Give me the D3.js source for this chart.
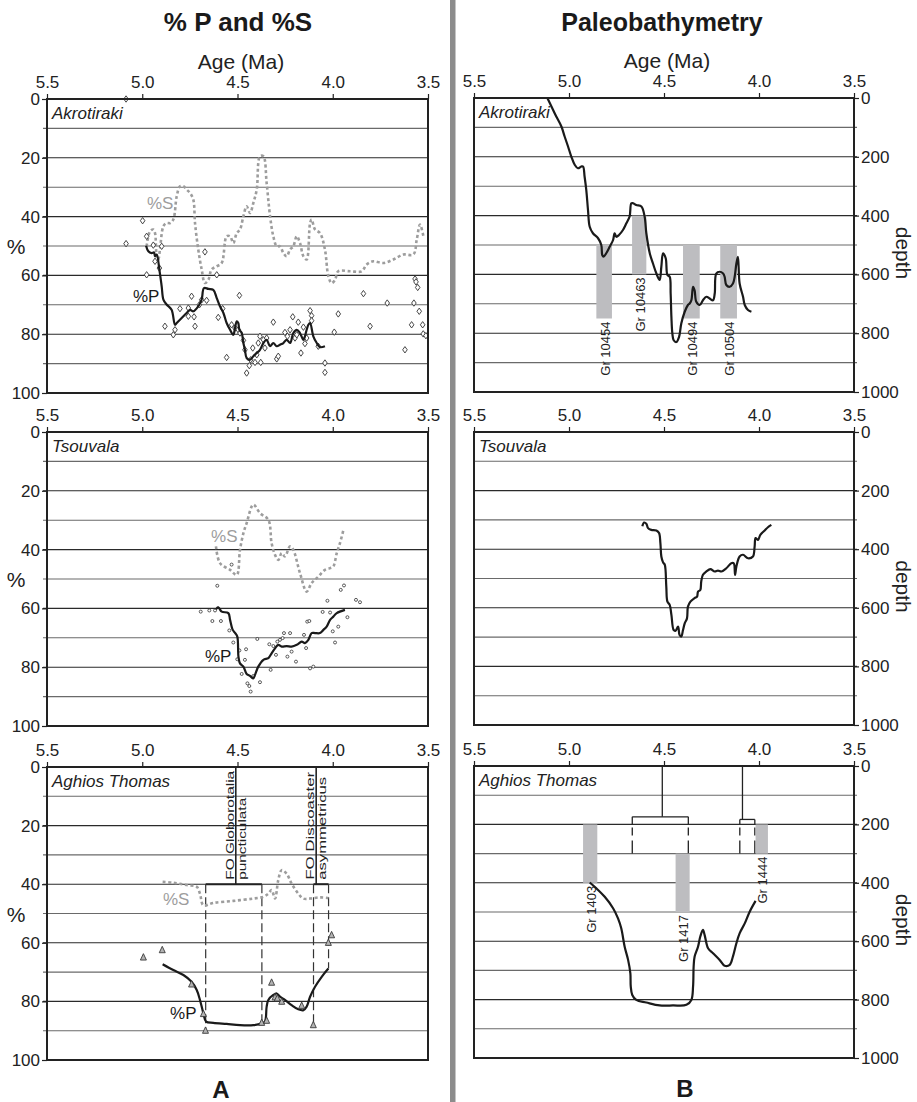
<!DOCTYPE html>
<html><head><meta charset="utf-8">
<script src="https://cdn.jsdelivr.net/npm/d3@7"></script>
<style>
body{margin:0;background:#fff}
svg{display:block}
svg text{font-family:"Liberation Sans",Arial,Helvetica,sans-serif}
</style></head><body>
<svg id="c" width="917" height="1102" font-family="Liberation Sans, Arial, sans-serif"></svg>
<script>
// ---------- axis ticks ----------
const ageTicks = [5.5, 5.0, 4.5, 4.0, 3.5];
const pctTicks = [0, 20, 40, 60, 80, 100];
const depthTicks = [0, 200, 400, 600, 800, 1000];
const siteNames = ["Akrotiraki", "Tsouvala", "Aghios Thomas"];

// ---------- A: Akrotiraki ----------
const akrP_age = [4.980,4.968,4.951,4.938,4.933,4.924,4.910,4.898,4.889,4.872,4.846,4.828,4.819,4.793,4.767,4.749,4.732,4.706,4.688,4.676,4.653,4.627,4.609,4.592,4.574,4.557,4.539,4.522,4.513,4.504,4.496,4.490,4.478,4.469,4.461,4.452,4.434,4.417,4.399,4.382,4.364,4.347,4.329,4.312,4.294,4.277,4.259,4.242,4.224,4.207,4.189,4.172,4.154,4.146,4.137,4.128,4.119,4.102,4.084,4.067,4.041];
const akrP_val = [49.9,51.8,52.4,52.2,53.5,52.9,58.1,63.7,68.2,69.9,71.7,76.8,76.2,74.5,72.8,71.7,72.2,70.5,68.2,64.3,64.6,64.9,67.7,70.5,72.8,76.2,78.5,80.2,77.9,75.6,76.2,78.5,79.6,83.0,85.3,88.1,88.7,87.5,86.4,85.3,83.0,81.9,84.1,83.0,84.1,83.6,83.0,81.9,83.0,79.6,78.5,79.6,81.9,80.7,78.5,76.8,76.2,80.7,83.0,84.4,84.1];
const akrS_age = [4.977,4.959,4.942,4.933,4.924,4.916,4.907,4.889,4.872,4.854,4.837,4.819,4.802,4.784,4.767,4.749,4.732,4.723,4.706,4.688,4.671,4.653,4.636,4.609,4.583,4.557,4.539,4.522,4.504,4.487,4.469,4.452,4.434,4.417,4.399,4.382,4.364,4.347,4.329,4.312,4.294,4.277,4.259,4.242,4.224,4.207,4.189,4.172,4.154,4.137,4.119,4.111,4.093,4.067,4.041,4.023,4.006,3.988,3.971,3.909,3.848,3.822,3.787,3.734,3.682,3.629,3.577,3.559,3.542,3.524];
const akrS_val = [50.1,45.0,44.4,45.6,53.5,54.6,51.2,43.3,42.2,42.2,41.0,33.1,29.7,29.7,30.8,32.0,34.2,42.2,51.2,58.0,62.6,61.5,58.0,56.9,55.8,46.7,46.7,49.0,45.6,44.4,39.9,36.5,38.8,35.4,30.8,19.5,19.5,28.6,39.9,46.7,50.1,50.1,52.4,53.5,51.2,50.1,46.7,49.0,53.5,54.6,42.2,41.0,44.4,45.6,51.2,60.3,62.6,61.5,58.6,58.6,58.6,56.3,55.2,55.8,54.6,52.9,52.9,47.8,42.7,46.7];
const akrPts_age = [5.085,5.085,4.998,4.977,4.977,4.942,4.933,4.910,4.898,4.881,4.837,4.828,4.802,4.758,4.758,4.741,4.728,4.723,4.700,4.688,4.671,4.662,4.609,4.601,4.578,4.557,4.531,4.513,4.490,4.496,4.487,4.469,4.461,4.452,4.438,4.431,4.420,4.408,4.399,4.391,4.378,4.382,4.364,4.356,4.347,4.312,4.294,4.286,4.251,4.238,4.224,4.210,4.198,4.189,4.181,4.167,4.154,4.146,4.137,4.119,4.111,4.111,4.076,4.041,4.041,3.992,3.971,3.839,3.804,3.714,3.621,3.586,3.574,3.568,3.563,3.554,3.546,3.528,3.525,3.511];
const akrPts_val = [0,49.2,41.4,46.7,59.8,49.7,55.2,57.5,50.1,77.3,80.2,78.5,71.3,73.9,71.1,67.1,74.1,77.3,70.0,68.3,52.0,68.5,59.8,74.3,71.3,87.9,76.8,77.9,66.8,78.5,79.6,82.1,85.3,93.2,90.7,88.7,84.7,89.6,87.0,83.0,89.6,80.7,81.9,84.7,81.3,75.9,88.4,87.5,79.4,80.7,78.5,74.1,81.3,80.2,75.9,86.4,77.6,83.2,81.3,72.0,73.7,75.4,84.1,89.8,93.0,79.3,73.1,66.2,77.3,69.4,85.3,76.8,69.4,61.2,62.2,64.1,72.2,76.8,79.9,80.5];

// ---------- A: Tsouvala ----------
const tsoP_age = [4.613,4.601,4.583,4.548,4.539,4.525,4.512,4.501,4.495,4.487,4.469,4.452,4.434,4.417,4.408,4.391,4.364,4.338,4.321,4.303,4.286,4.268,4.242,4.216,4.189,4.163,4.146,4.128,4.111,4.093,4.067,4.049,4.032,4.014,3.997,3.979,3.936];
const tsoP_val = [60.3,59.6,61.1,61.6,63.9,67.3,68.4,69.6,76.4,78.7,79.8,82.3,83.0,83.8,82.6,79.8,77.5,76.9,75.3,73.6,72.4,73.0,72.8,73.0,72.4,71.3,71.8,70.7,68.4,68.4,68.4,67.3,66.2,63.9,62.8,61.6,60.5];
const tsoS_age = [4.613,4.592,4.539,4.504,4.487,4.469,4.452,4.417,4.382,4.338,4.321,4.303,4.286,4.268,4.251,4.224,4.207,4.172,4.137,4.111,4.076,4.041,4.014,3.997,3.979,3.962,3.944];
const tsoS_val = [38.9,44.6,46.9,48.6,40.1,34.4,31.0,24.7,27.6,29.9,37.8,41.8,43.5,41.2,42.3,38.9,40.1,48.0,54.3,51.4,49.2,46.9,46.3,45.7,41.2,37.8,33.3];
const tsoPts_age = [4.693,4.648,4.632,4.618,4.606,4.587,4.543,4.531,4.522,4.501,4.490,4.478,4.461,4.455,4.448,4.438,4.431,4.417,4.396,4.382,4.333,4.326,4.312,4.298,4.291,4.277,4.263,4.256,4.238,4.224,4.216,4.193,4.151,4.140,4.134,4.123,4.119,4.102,4.053,4.028,4.014,4.000,3.988,3.971,3.958,3.941,3.923,3.878,3.857];
const tsoPts_val = [61.1,60.7,64.3,60.7,52.3,64.3,67.5,45.1,71.6,77.3,74.3,82.3,77.5,73.9,85.5,86.4,88.3,83.0,70.4,85.1,72.2,80.9,72.8,75.8,71.3,70.7,70.1,68.4,76.4,68.4,74.7,78.1,69.0,73.5,64.5,64.3,80.4,79.8,61.2,57.4,61.4,67.8,71.6,66.2,53.7,52.2,63.0,57.1,57.9];

// ---------- A: Aghios Thomas ----------
const aghP_age = [4.893,4.837,4.784,4.741,4.714,4.697,4.679,4.665,4.627,4.557,4.487,4.417,4.373,4.356,4.347,4.338,4.312,4.294,4.277,4.251,4.216,4.181,4.154,4.137,4.119,4.093,4.058,4.023];
const aghP_val = [67.3,69.3,71.0,73.3,76.1,79.5,84.1,86.9,87.3,87.7,88.1,88.1,87.5,86.9,81.8,79.5,77.8,77.3,78.4,79.5,81.3,82.7,83.0,81.8,78.4,75.0,71.6,68.8];
const aghS_age = [4.893,4.837,4.767,4.714,4.697,4.679,4.627,4.522,4.417,4.364,4.338,4.321,4.303,4.286,4.268,4.242,4.216,4.181,4.154,4.119,4.067,4.023];
const aghS_val = [39.2,39.5,40.3,40.9,43.2,47.2,46.4,45.7,44.9,44.3,43.2,42.0,44.9,38.6,35.2,36.4,39.8,43.2,44.9,44.9,44.5,44.7];
const aghPts_age = [4.994,4.895,4.741,4.679,4.668,4.373,4.347,4.321,4.303,4.291,4.268,4.163,4.102,4.023,4.006];
const aghPts_val = [65.0,62.5,74.2,84.3,90.0,87.3,86.6,73.6,78.6,79.0,80.1,81.5,88.1,60.0,57.4];

// biostratigraphic events (FO), shared by A and B
const foAge = [4.509, 4.087];
const foFrom = [4.667, 4.101];
const foTo = [4.372, 4.022];
const foLabel1 = ["FO Globorotalia", "FO Discoaster"];
const foLabel2 = ["puncticulata", "asymmetricus"];
const foDashFromEnd = [90.0, 87.8];
const foDashToEnd = [87.3, 68.8];

// series label anchor positions (age, %)
const lblS_age = [4.975, 4.639, 4.891], lblS_val = [37.4, 37.4, 47.1];
const lblP_age = [5.049, 4.671, 4.854], lblP_val = [69.0, 78.2, 86.0];

// ---------- B: paleobathymetry ----------
const akrD_age = [5.114,5.093,5.067,5.040,5.023,5.005,4.988,4.970,4.953,4.935,4.926,4.918,4.909,4.900,4.891,4.874,4.847,4.830,4.825,4.818,4.804,4.786,4.768,4.760,4.751,4.737,4.716,4.698,4.681,4.672,4.663,4.646,4.619,4.602,4.593,4.575,4.558,4.540,4.523,4.514,4.505,4.491,4.482,4.470,4.465,4.461,4.456,4.449,4.435,4.421,4.409,4.391,4.374,4.365,4.356,4.347,4.339,4.330,4.312,4.295,4.277,4.260,4.242,4.233,4.225,4.207,4.189,4.181,4.172,4.154,4.137,4.128,4.119,4.111,4.102,4.084,4.075,4.058,4.040];
const akrD_depth = [0,28,63,97,131,165,199,227,239,233,233,267,313,381,438,460,477,500,534,540,528,506,483,460,472,466,449,426,403,358,358,364,369,403,460,528,563,597,619,574,528,545,602,608,665,745,801,824,830,813,767,727,704,699,688,642,654,693,704,688,676,682,688,665,597,591,597,608,636,642,631,608,563,540,631,676,704,721,727];
const akrBar_from = [4.856, 4.668, 4.400, 4.204];
const akrBar_to = [4.774, 4.593, 4.312, 4.116];
const akrBar_top = [500, 400, 500, 500];
const akrBar_bot = [750, 600, 750, 750];
const akrBar_lab = ["Gr 10454", "Gr 10463", "Gr 10494", "Gr 10504"];

const tsoD_age = [4.614,4.605,4.593,4.584,4.567,4.540,4.526,4.519,4.514,4.505,4.496,4.488,4.482,4.470,4.461,4.449,4.439,4.426,4.418,4.409,4.400,4.391,4.379,4.374,4.361,4.339,4.326,4.321,4.309,4.304,4.295,4.277,4.256,4.233,4.216,4.198,4.172,4.146,4.133,4.126,4.119,4.102,4.084,4.058,4.032,4.023,4.018,4.005,3.993,3.970,3.953,3.935];
const tsoD_depth = [322,309,313,328,334,336,345,379,425,445,453,527,579,590,624,676,678,664,693,698,676,653,636,596,579,567,562,545,539,510,487,476,468,476,473,476,465,448,448,488,459,425,419,431,425,391,362,368,351,336,325,317];

const aghD_age = [4.891,4.856,4.812,4.768,4.742,4.725,4.707,4.689,4.677,4.675,4.667,4.646,4.593,4.523,4.453,4.382,4.356,4.347,4.344,4.339,4.321,4.309,4.295,4.286,4.268,4.242,4.207,4.181,4.154,4.137,4.119,4.102,4.075,4.049,4.018];
const aghD_depth = [399,419,448,487,522,556,619,664,710,755,784,801,810,820,820,818,801,755,687,653,619,584,561,579,624,641,664,684,681,652,607,573,539,499,462];
const aghBar_from = [4.926, 4.439, 4.018];
const aghBar_to = [4.851, 4.365, 3.953];
const aghBar_top = [200, 300, 200];
const aghBar_bot = [400, 500, 300];
const aghBar_lab = ["Gr 1403", "Gr 1417", "Gr 1444"];
const foBracketDepth = [174, 183];

// ---------- drawing ----------
const FONT = "Liberation Sans, Arial, sans-serif";
const svg = d3.select("#c");
const FS = 17;

function makePanel(cfg) {
  const g = svg.append("g");
  const x = d3.scaleLinear().domain([5.5, 3.5]).range([cfg.x0, cfg.x1]);
  const y = d3.scaleLinear().domain([0, cfg.yMax]).range([cfg.y0, cfg.y1]);
  const grid = d3.range(cfg.gridStep, cfg.yMax, cfg.gridStep);
  g.selectAll("line.grid").data(grid).join("line")
    .attr("x1", cfg.side === "left" ? cfg.x0 - 4 : cfg.x0)
    .attr("x2", cfg.side === "left" ? cfg.x1 : cfg.x1 + 3)
    .attr("y1", d => y(d)).attr("y2", d => y(d))
    .attr("stroke", (d, i) => i % 2 ? "#2a2a2a" : "#6a6a6a").attr("stroke-width", 1.1);
  const ax = g.append("g").attr("transform", `translate(0,${cfg.y0})`)
    .call(d3.axisTop(x).tickValues(ageTicks).tickFormat(d3.format(".1f"))
      .tickSizeInner(5).tickSizeOuter(0).tickPadding(6));
  ax.attr("font-family", FONT);
  ax.select(".domain").remove();
  ax.selectAll("line").attr("stroke", "#222").attr("stroke-width", 1.2);
  ax.selectAll("text").attr("font-size", FS).attr("fill", "#222");
  const sideAxis = cfg.side === "left" ? d3.axisLeft(y) : d3.axisRight(y);
  const ay = g.append("g").attr("transform", `translate(${cfg.side === "left" ? cfg.x0 : cfg.x1},0)`)
    .call(sideAxis.tickValues(cfg.ticks).tickFormat(d3.format("d")).tickSizeInner(5).tickSizeOuter(0).tickPadding(2));
  ay.attr("font-family", FONT);
  ay.select(".domain").remove();
  ay.selectAll("line").attr("stroke", "#222").attr("stroke-width", 1.2);
  ay.selectAll("text").attr("font-size", FS).attr("fill", "#222");
  svg.append("rect").attr("x", cfg.x0).attr("y", cfg.y0)
    .attr("width", cfg.x1 - cfg.x0).attr("height", cfg.y1 - cfg.y0)
    .attr("fill", "none").attr("stroke", "#222").attr("stroke-width", 2);
  svg.append("text").attr("x", cfg.x0 + 5).attr("y", cfg.y0 + 20).attr("font-family", FONT)
    .attr("font-size", FS).attr("font-style", "italic").attr("fill", "#222").text(cfg.name);
  return { x, y, g };
}

function drawLine(p, ages, vals, opts) {
  const n = Math.min(ages.length, vals.length);
  const pts = d3.range(n).map(i => [ages[i], vals[i]]);
  const line = d3.line().x(d => p.x(d[0])).y(d => p.y(d[1])).curve(d3.curveCatmullRom.alpha(0.5));
  p.g.append("path").attr("d", line(pts)).attr("fill", "none")
    .attr("stroke", opts.color).attr("stroke-width", opts.width)
    .attr("stroke-dasharray", opts.dash || null).attr("stroke-linejoin", "round").attr("stroke-linecap", "butt");
}

function drawPoints(p, ages, vals, shape) {
  const n = Math.min(ages.length, vals.length);
  const pts = d3.range(n).map(i => [ages[i], vals[i]]);
  let path, fill, stroke, sw;
  if (shape === "diamond") { path = "M0,-3.2L2.3,0L0,3.2L-2.3,0Z"; fill = "#fff"; stroke = "#333"; sw = 0.9; }
  else if (shape === "circle") { path = "M1.5,0A1.5,1.5 0 1,1 -1.5,0A1.5,1.5 0 1,1 1.5,0Z"; fill = "#fff"; stroke = "#333"; sw = 0.8; }
  else { path = "M0,-3.8L3,2.6L-3,2.6Z"; fill = "#b3b3b3"; stroke = "#3a3a3a"; sw = 0.9; }
  p.g.selectAll(null).data(pts).join("path")
    .attr("transform", d => `translate(${p.x(d[0])},${p.y(d[1])})`)
    .attr("d", path).attr("fill", fill).attr("stroke", stroke).attr("stroke-width", sw);
}

const leftY = [[99, 393], [432, 726], [767, 1060]];
const rightY = [[98, 392], [432, 725], [766, 1058]];

const L = leftY.map((r, i) => makePanel({ x0: 47, x1: 428, y0: r[0], y1: r[1], yMax: 100, gridStep: 10, ticks: pctTicks, side: "left", name: siteNames[i] }));
const R = rightY.map((r, i) => makePanel({ x0: 474, x1: 854, y0: r[0], y1: r[1], yMax: 1000, gridStep: 100, ticks: depthTicks, side: "right", name: siteNames[i] }));

// --- A series ---
const gray = "#9d9d9d", black = "#1a1a1a";
const sDash = "3,2.6";
drawLine(L[0], akrS_age, akrS_val, { color: gray, width: 2.6, dash: sDash });
drawPoints(L[0], akrPts_age, akrPts_val, "diamond");
drawLine(L[0], akrP_age, akrP_val, { color: black, width: 2.2 });

drawLine(L[1], tsoS_age, tsoS_val, { color: gray, width: 2.6, dash: sDash });
drawPoints(L[1], tsoPts_age, tsoPts_val, "circle");
drawLine(L[1], tsoP_age, tsoP_val, { color: black, width: 2.2 });

const pA = L[2];
foAge.forEach((a, i) => {
  pA.g.append("line").attr("x1", pA.x(a)).attr("x2", pA.x(a)).attr("y1", pA.y(0)).attr("y2", pA.y(40))
    .attr("stroke", "#222").attr("stroke-width", 1.6);
  pA.g.append("line").attr("x1", pA.x(foFrom[i])).attr("x2", pA.x(foTo[i])).attr("y1", pA.y(40)).attr("y2", pA.y(40))
    .attr("stroke", "#222").attr("stroke-width", 2);
  [[foFrom[i], foDashFromEnd[i]], [foTo[i], foDashToEnd[i]]].forEach(d => {
    pA.g.append("line").attr("x1", pA.x(d[0])).attr("x2", pA.x(d[0])).attr("y1", pA.y(40)).attr("y2", pA.y(d[1]))
      .attr("stroke", "#333").attr("stroke-width", 1.2).attr("stroke-dasharray", "9,4");
  });
  const ybase = pA.y(38.5);
  pA.g.append("text").attr("transform", `translate(${pA.x(a) - 2},${ybase}) rotate(-90)`)
    .attr("font-family", FONT).attr("font-size", 10.5).attr("fill", "#222")
    .attr("textLength", i === 0 ? 109 : 108).attr("lengthAdjust", "spacingAndGlyphs").text(foLabel1[i]);
  pA.g.append("text").attr("transform", `translate(${pA.x(a) + 10},${ybase}) rotate(-90)`)
    .attr("font-family", FONT).attr("font-size", 10.5).attr("fill", "#222")
    .attr("textLength", i === 0 ? 82 : 103).attr("lengthAdjust", "spacingAndGlyphs").text(foLabel2[i]);
});
drawLine(L[2], aghS_age, aghS_val, { color: gray, width: 2.6, dash: sDash });
drawLine(L[2], aghP_age, aghP_val, { color: black, width: 2.2 });
drawPoints(L[2], aghPts_age, aghPts_val, "triangle");

L.forEach((p, i) => {
  p.g.append("text").attr("x", p.x(lblS_age[i])).attr("y", p.y(lblS_val[i])).attr("font-family", FONT)
    .attr("font-size", FS).attr("fill", gray).text("%S");
  p.g.append("text").attr("x", p.x(lblP_age[i])).attr("y", p.y(lblP_val[i])).attr("font-family", FONT)
    .attr("font-size", FS).attr("fill", black).text("%P");
});

// --- B ---
function drawBars(p, from, to, top, bot, labs) {
  from.forEach((f, i) => {
    p.g.append("rect").attr("x", p.x(f)).attr("width", p.x(to[i]) - p.x(f))
      .attr("y", p.y(top[i])).attr("height", p.y(bot[i]) - p.y(top[i])).attr("fill", "#bdbdc0");
  });
  from.forEach((f, i) => {
    const cx = (p.x(f) + p.x(to[i])) / 2 + 1;
    p.g.append("text").attr("transform", `translate(${cx},${p.y(bot[i]) + 3}) rotate(-90)`)
      .attr("text-anchor", "end").attr("dominant-baseline", "central").attr("font-family", FONT)
      .attr("font-size", 13).attr("fill", "#222").text(labs[i]);
  });
}
drawBars(R[0], akrBar_from, akrBar_to, akrBar_top, akrBar_bot, akrBar_lab);
drawLine(R[0], akrD_age, akrD_depth, { color: black, width: 2.2 });
drawLine(R[1], tsoD_age, tsoD_depth, { color: black, width: 2.2 });

const pB = R[2];
foAge.forEach((a, i) => {
  const yb = pB.y(foBracketDepth[i]);
  pB.g.append("line").attr("x1", pB.x(a)).attr("x2", pB.x(a)).attr("y1", pB.y(0)).attr("y2", yb)
    .attr("stroke", "#222").attr("stroke-width", 1.3);
  pB.g.append("line").attr("x1", pB.x(foFrom[i])).attr("x2", pB.x(foTo[i])).attr("y1", yb).attr("y2", yb)
    .attr("stroke", "#222").attr("stroke-width", 1.3);
  [foFrom[i], foTo[i]].forEach(e => {
    pB.g.append("line").attr("x1", pB.x(e)).attr("x2", pB.x(e)).attr("y1", yb).attr("y2", pB.y(200))
      .attr("stroke", "#222").attr("stroke-width", 1.3);
    pB.g.append("line").attr("x1", pB.x(e)).attr("x2", pB.x(e)).attr("y1", pB.y(200)).attr("y2", pB.y(300))
      .attr("stroke", "#222").attr("stroke-width", 1.3).attr("stroke-dasharray", "0,3,8,5,14");
  });
});
drawBars(R[2], aghBar_from, aghBar_to, aghBar_top, aghBar_bot, aghBar_lab);
drawLine(R[2], aghD_age, aghD_depth, { color: black, width: 2.2 });

// --- titles & labels ---
function txt(x, y, s, size, opts = {}) {
  const t = svg.append("text").attr("x", x).attr("y", y).attr("text-anchor", "middle")
    .attr("font-family", FONT).attr("font-size", size).attr("fill", opts.fill || "#222")
    .attr("font-weight", opts.bold ? "bold" : null).text(s);
  if (opts.transform) t.attr("x", null).attr("y", null).attr("transform", opts.transform);
  return t;
}
svg.append("rect").attr("x", 450).attr("y", 0).attr("width", 5.5).attr("height", 1102).attr("fill", "#8c8c8c");
txt(238, 31, "% P and %S", 26, { bold: true, fill: "#1a1a1a" });
txt(662, 31, "Paleobathymetry", 25, { bold: true, fill: "#1a1a1a" });
txt(241, 69, "Age (Ma)", 21);
txt(667, 68, "Age (Ma)", 21);
leftY.forEach(r => txt(16, (r[0] + r[1]) / 2 + 8, "%", 21));
rightY.forEach(r => txt(0, 0, "depth", 21, { transform: `translate(896,${(r[0] + r[1]) / 2 + 8}) rotate(90)` }));
txt(221, 1098, "A", 24, { bold: true, fill: "#1a1a1a" });
txt(685, 1097, "B", 24, { bold: true, fill: "#1a1a1a" });
</script>
</body></html>
